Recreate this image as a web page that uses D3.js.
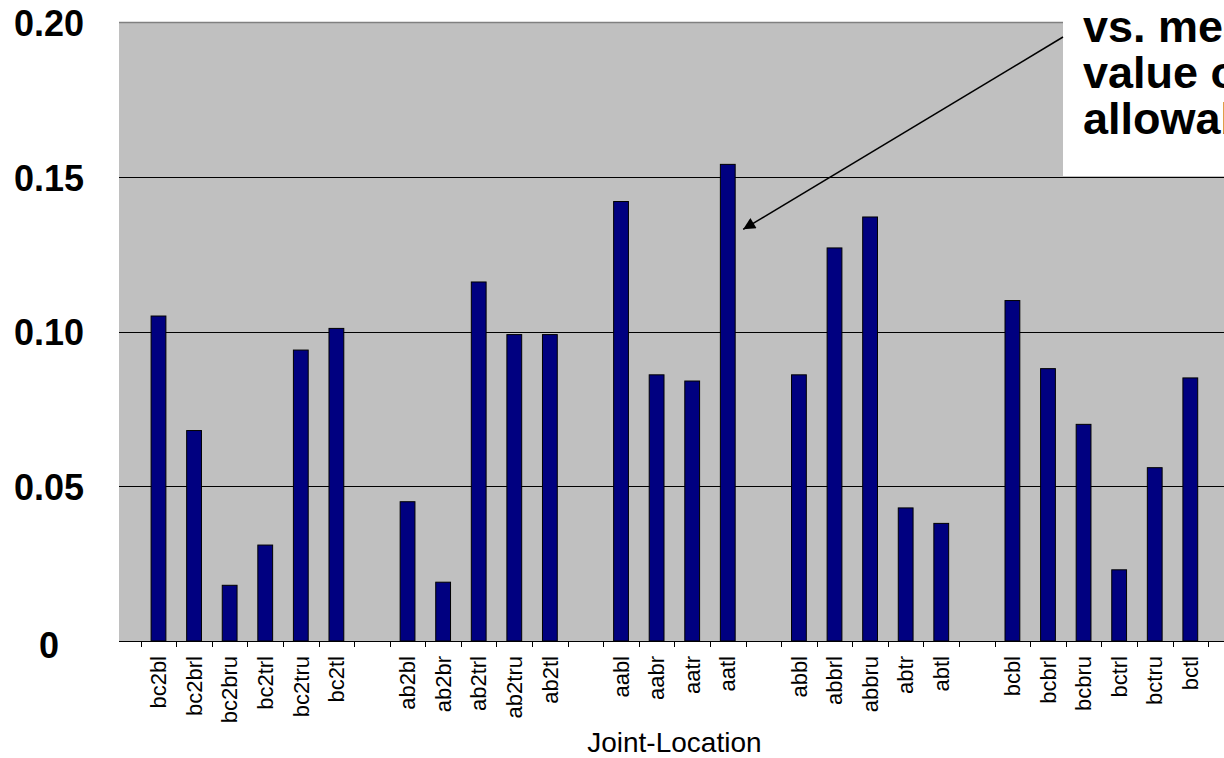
<!DOCTYPE html>
<html>
<head>
<meta charset="utf-8">
<script src="https://cdn.jsdelivr.net/npm/d3@7"></script>
<style>
  html, body { margin: 0; padding: 0; background: #fff; overflow: hidden; }
  svg { display: block; font-family: "Liberation Sans", Arial, sans-serif; }
</style>
</head>
<body>
<svg id="chart" width="1224" height="758"></svg>
<script>
// Joint locations, grouped; empty strings separate the groups
const categories = [
  "bc2bl", "bc2brl", "bc2bru", "bc2trl", "bc2tru", "bc2tl", "",
  "ab2bl", "ab2br", "ab2trl", "ab2tru", "ab2tl", "",
  "aabl", "aabr", "aatr", "aatl", "",
  "abbl", "abbrl", "abbru", "abtr", "abtl", "",
  "bcbl", "bcbrl", "bcbru", "bctrl", "bctru", "bctl"
];
const values = [
  0.105, 0.068, 0.018, 0.031, 0.094, 0.101, null,
  0.045, 0.019, 0.116, 0.099, 0.099, null,
  0.142, 0.086, 0.084, 0.154, null,
  0.086, 0.127, 0.137, 0.043, 0.038, null,
  0.110, 0.088, 0.070, 0.023, 0.056, 0.085
];
const yTicks = [0, 0.05, 0.10, 0.15, 0.20];
const yTickLabels = ["0", "0.05", "0.10", "0.15", "0.20"];
const xTitle = "Joint-Location";
const noteLines = ["vs. mean", "value of", "allowable"];
const noteTarget = "aatl";

const svg = d3.select("#chart");

const plotLeft = 119, plotRight = 1224;
const x = d3.scaleBand()
  .domain(d3.range(categories.length))
  .range([140.7, 1208.1])
  .padding(0);
const y = d3.scaleLinear().domain([0, 0.2]).range([641, 22]);

// plot area
svg.append("rect")
  .attr("x", plotLeft).attr("y", y(0.2))
  .attr("width", plotRight - plotLeft).attr("height", y(0) - y(0.2))
  .attr("fill", "#c0c0c0");

// horizontal gridlines
svg.append("g").selectAll("line")
  .data(yTicks.filter(t => t > 0 && t < 0.2))
  .join("line")
  .attr("x1", plotLeft).attr("x2", plotRight)
  .attr("y1", d => Math.round(y(d)) + 0.5).attr("y2", d => Math.round(y(d)) + 0.5)
  .attr("stroke", "#000").attr("stroke-width", 1);

// top border of plot area
svg.append("line")
  .attr("x1", plotLeft).attr("x2", plotRight)
  .attr("y1", y(0.2) + 0.5).attr("y2", y(0.2) + 0.5)
  .attr("stroke", "#808080").attr("stroke-width", 1.5);

// bars
const barW = 14.8;
svg.append("g").selectAll("rect")
  .data(values.map((v, i) => ({ v, i })).filter(d => d.v != null))
  .join("rect")
  .attr("x", d => x(d.i) + (x.bandwidth() - barW) / 2)
  .attr("y", d => y(d.v))
  .attr("width", barW)
  .attr("height", d => y(0) - y(d.v))
  .attr("fill", "#000080")
  .attr("stroke", "#000")
  .attr("stroke-width", 1);

// x axis line and tick marks at category boundaries
svg.append("line")
  .attr("x1", plotLeft).attr("x2", plotRight)
  .attr("y1", y(0) + 0.5).attr("y2", y(0) + 0.5)
  .attr("stroke", "#000");
svg.append("g").selectAll("line")
  .data(d3.range(categories.length + 1))
  .join("line")
  .attr("x1", i => Math.round(x.range()[0] + i * x.step()) + 0.5)
  .attr("x2", i => Math.round(x.range()[0] + i * x.step()) + 0.5)
  .attr("y1", y(0)).attr("y2", y(0) + 6)
  .attr("stroke", "#000");

// category labels, rotated
svg.append("g").selectAll("text")
  .data(categories.map((c, i) => ({ c, i })).filter(d => d.c))
  .join("text")
  .attr("transform", d => `translate(${x(d.i) + x.bandwidth() / 2},656) rotate(-90)`)
  .attr("text-anchor", "end")
  .attr("dy", "0.35em")
  .attr("font-size", 22)
  .attr("fill", "#000")
  .text(d => d.c);

// y tick labels
svg.append("g").selectAll("text")
  .data(yTicks)
  .join("text")
  .attr("x", 49)
  .attr("y", d => y(d) + (d === 0 ? 4 : 1))
  .attr("dy", "0.36em")
  .attr("text-anchor", "middle")
  .attr("font-size", 36)
  .attr("font-weight", "bold")
  .attr("fill", "#000")
  .text((d, i) => yTickLabels[i]);

// x axis title
svg.append("text")
  .attr("x", (x.range()[0] + x.range()[1]) / 2)
  .attr("y", 752)
  .attr("text-anchor", "middle")
  .attr("font-size", 28)
  .attr("fill", "#000")
  .text(xTitle);

// note box
const boxX = 1063;
svg.append("rect")
  .attr("x", boxX).attr("y", 0)
  .attr("width", 1224 - boxX).attr("height", 176)
  .attr("fill", "#fff");
svg.append("g").selectAll("text")
  .data(noteLines)
  .join("text")
  .attr("x", 1083)
  .attr("y", (d, i) => 42 + i * 46)
  .attr("font-size", 45)
  .attr("font-weight", "bold")
  .attr("fill", "#000")
  .text(d => d);

// arrow from the note to the tallest bar
svg.append("defs").append("marker")
  .attr("id", "head")
  .attr("viewBox", "0 0 10 10")
  .attr("refX", 10).attr("refY", 5)
  .attr("markerUnits", "userSpaceOnUse")
  .attr("markerWidth", 18).attr("markerHeight", 12)
  .attr("orient", "auto")
  .append("path")
  .attr("d", "M0,0 L10,5 L0,10 Z")
  .attr("fill", "#000");

const ti = categories.indexOf(noteTarget);
const tipX = x(ti) + x.bandwidth() / 2 + barW / 2 + 8;
const tipY = y(values[ti]) + 65;
svg.append("line")
  .attr("x1", boxX).attr("y1", 37)
  .attr("x2", tipX).attr("y2", tipY)
  .attr("stroke", "#000").attr("stroke-width", 1.5)
  .attr("marker-end", "url(#head)");
</script>
</body>
</html>
